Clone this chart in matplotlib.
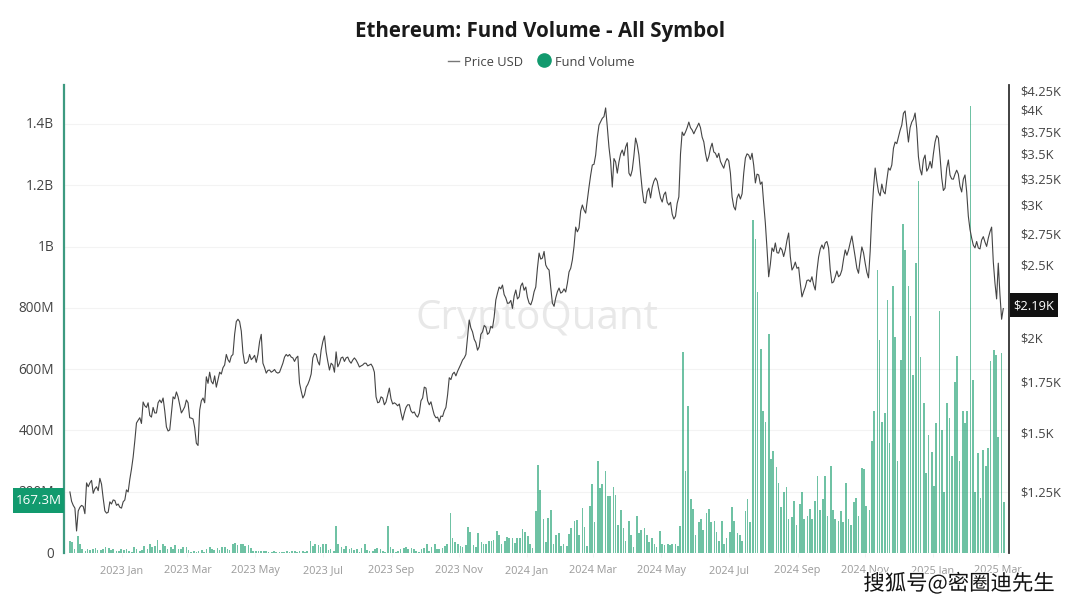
import matplotlib
matplotlib.use("Agg")
import matplotlib.pyplot as plt
import matplotlib.patheffects as pe
from matplotlib.lines import Line2D
from matplotlib.patches import Rectangle
from matplotlib.transforms import ScaledTranslation
import pandas as pd

plt.rcParams['font.family'] = ['Open Sans', 'DejaVu Sans']

title = "Ethereum: Fund Volume - All Symbol"
price_start = "2022-11-15"
price_usd = [
1250,1200,1110,1193,1196,1285,1285,1245,1270,1303,1226,1172,1213,1220,1200,1193,1213,1258,1299,1390,
1542,1567,1644,1617,1578,1617,1590,1654,1664,1524,1510,1670,1695,1630,1604,1654,1567,1561,1450,1604,
1664,1775,1800,1737,1720,1800,1825,1900,1855,1900,2100,2100,1910,1850,1900,1880,1855,1975,1850,1795,
1812,1806,1800,1800,1850,1900,1900,1880,1880,1742,1664,1720,1758,1880,1900,1840,1975,1915,1812,1840,
1915,1850,1885,1880,1862,1868,1868,1829,1840,1850,1840,1829,1670,1644,1664,1644,1715,1634,1634,1634,
1556,1617,1630,1590,1578,1590,1664,1715,1630,1610,1567,1548,1573,1617,1770,1790,1780,1825,1868,1900,
2110,2035,1970,1945,2035,2065,2030,2060,2243,2333,2347,2257,2222,2186,2312,2264,2362,2333,2222,2243,
2333,2587,2548,2495,2457,2222,2257,2326,2298,2298,2443,2533,2800,2792,2995,2922,3163,3383,3487,3820,
3900,4025,3572,3163,3414,3414,3541,3572,3300,3332,3672,3487,3135,3012,3153,3163,3252,3135,3022,3116,
2995,2913,2895,3070,3740,3740,3855,3763,3763,3843,3683,3506,3470,3615,3506,3506,3383,3414,3425,3070,
2950,3098,3098,3456,3487,3506,3203,3282,3213,2834,2407,2628,2668,2587,2612,2612,2750,2457,2517,2478,
2264,2333,2384,2407,2312,2556,2652,2668,2628,2362,2407,2407,2457,2612,2612,2725,2556,2433,2636,2509,
2399,2913,3352,3116,3192,3098,3352,3383,3628,3683,3820,3988,3628,3855,3963,3470,3282,3487,3352,3352,
3628,3672,3252,3153,3435,3242,3290,3290,3116,3282,2895,2708,2628,2628,2692,2676,2708,2800,2362,2509,
2115]
price_between_usd = [
1215,1190,1180,1200,1170,1270,1295,1262,1255,1280,1180,1175,1205,1218,1205,1190,1220,1250,1340,1460,
1555,1540,1625,1640,1570,1590,1640,1640,1600,1505,1590,1660,1670,1590,1620,1640,1565,1520,1440,1650,
1640,1740,1750,1780,1760,1790,1840,1870,1890,2020,2115,2040,1850,1860,1870,1895,1900,2020,1825,1810,
1800,1815,1795,1825,1885,1890,1885,1860,1890,1700,1680,1735,1790,1905,1860,1925,2010,1860,1850,1800,
1830,1880,1860,1885,1850,1880,1850,1835,1850,1835,1845,1800,1640,1670,1630,1680,1660,1640,1625,1590,
1590,1630,1600,1595,1570,1650,1720,1650,1645,1580,1570,1575,1600,1680,1760,1800,1805,1845,1880,2000,
2060,1990,1925,2020,2075,2020,2070,2130,2290,2320,2280,2220,2240,2270,2250,2340,2310,2260,2210,2300,
2470,2540,2600,2470,2330,2200,2300,2290,2320,2360,2470,2640,2760,2940,2950,3040,3280,3390,3680,3860,
3920,3800,3420,3450,3300,3500,3480,3620,3270,3480,3600,3300,3020,3120,3060,3220,3220,3060,3090,3020,
3020,2870,3010,3500,3700,3790,3790,3720,3800,3790,3630,3420,3560,3520,3460,3420,3350,3450,3300,2980,
3060,3050,3300,3500,3440,3380,3290,3190,3010,2620,2500,2600,2590,2630,2560,2690,2560,2480,2470,2360,
2300,2380,2370,2350,2450,2620,2620,2680,2460,2370,2450,2420,2540,2570,2670,2640,2470,2540,2590,2440,
2600,3150,3220,3080,3120,3230,3330,3560,3610,3760,3960,3800,3790,3890,3780,3340,3440,3320,3420,3500,
3700,3470,3130,3350,3280,3240,3330,3170,3240,3120,2780,2650,2680,2620,2720,2640,2760,2520,2250,2280,
2185]

volume_start = "2022-11-15"
fund_volume_m = [
40,36,12, 55,30,14, 8,14,10, 12,16,10, 9,12,18, 16,10,14, 6,8,14, 10,12,6, 3,18,14, 8,10,22,
12,30,18, 22,42,10, 28,24,12, 18,14,26, 14,12,18, 20,10,2, 5,3,8, 10,4,12, 18,12,10, 16,10,20,
18,12,10, 28,32,25, 30,28,24, 26,16,5, 8,6,5, 6,7,4, 3,5,2, 3,4,2, 5,3,6, 5,3,5,
6,4,5, 40,24,28, 26,20,28, 30,10,14, 8,88,30, 20,14,22, 12,16,10, 12,4,16, 28,10,6, 8,14,16,
14,8,4, 88,20,12, 4,6,14, 16,18,12, 16,12,6, 3,12,16, 28,6,18, 30,14,12, 16,24,28, 132,50,36,
30,24,20, 26,84,70, 26,20,66, 36,28,28, 40,40,42, 72,60,30, 40,52,48, 50,32,48, 50,78,68, 55,28,15,
136,288,206, 111,35,114, 140,30,58, 65,24,30, 24,62,82, 105,108,60, 147,85,24, 153,226,100, 300,212,225, 267,186,186,
215,190,90, 141,82,40, 104,60,20, 121,65,75, 82,60,35, 50,30,20, 72,30,25, 30,25,28, 30,24,89, 657,268,480,
176,143,60, 100,110,75, 132,143,100, 105,70,40, 105,30,50, 67,149,105, 65,60,40, 138,176,100, 1086,1024,852, 665,464,426,
714,306,334, 279,230,150, 198,214,110, 116,170,90, 160,200,110, 120,143,110, 170,252,140, 176,252,120, 285,140,110, 105,138,100,
230,110,90, 165,181,120, 276,274,154, 141,364,462, 924,696,429, 456,826,359, 870,706,299, 630,1074,989, 870,772,581, 946,1214,641,
489,261,386, 331,220,424, 791,402,200, 489,440,315, 557,643,300, 462,424,462, 1457,565,200, 326,180,337, 283,342,625, 663,647,380,
654,167.3]

left_ticks = [0, 200, 400, 600, 800, 1000, 1200, 1400]
left_labels = ["0", "200M", "400M", "600M", "800M", "1B", "1.2B", "1.4B"]
right_ticks = [1250, 1500, 1750, 2000, 2500, 2750, 3000, 3250, 3500, 3750, 4000, 4250]
right_labels = ["$1.25K", "$1.5K", "$1.75K", "$2K", "$2.5K", "$2.75K", "$3K", "$3.25K", "$3.5K", "$3.75K", "$4K", "$4.25K"]
x_ticks = ["2023-01-01", "2023-03-01", "2023-05-01", "2023-07-01", "2023-09-01", "2023-11-01", "2024-01-01",
           "2024-03-01", "2024-05-01", "2024-07-01", "2024-09-01", "2024-11-01", "2025-01-01", "2025-03-01"]
x_labels = ["2023 Jan", "2023 Mar", "2023 May", "2023 Jul", "2023 Sep", "2023 Nov", "2024 Jan",
            "2024 Mar", "2024 May", "2024 Jul", "2024 Sep", "2024 Nov", "2025 Jan", "2025 Mar"]

W, H = 1080, 608
fig = plt.figure(figsize=(W / 100, H / 100), dpi=100, facecolor="white")
ax = fig.add_axes([64 / W, (H - 553) / H, 945 / W, 468 / H])

price_series = []
for a, b in zip(price_usd, price_between_usd):
    price_series += [a, b]
price_dates = pd.date_range(price_start, periods=len(price_series), freq="36h")
vol_dates = [pd.Timestamp(volume_start) + pd.Timedelta(days=7 * (i // 3) + 2 * (i % 3)) for i in range(len(fund_volume_m))]

ax.bar(vol_dates, fund_volume_m, width=1.5, color="#0f9a68", alpha=0.6, linewidth=0, zorder=3)
ax.set_xlim(pd.Timestamp("2022-11-09 16:00"), pd.Timestamp("2022-11-09 16:00") + pd.Timedelta(days=852))
ax.set_ylim(0, 1527)
ax.set_yticks(left_ticks, left_labels)
ax.set_xticks(pd.to_datetime(x_ticks), x_labels)
ax.tick_params(axis="y", length=0, pad=7, labelsize=9.8, labelcolor="#444444")
ax.tick_params(axis="x", length=3, width=0.5, color="#eeeeee", pad=5.5, labelsize=7.8, labelcolor="#9a9a9a")
for lab in ax.get_yticklabels():
    lab.set_transform(lab.get_transform() + ScaledTranslation(0, 1 / 100, fig.dpi_scale_trans))
ax.grid(axis="y", color="#f3f3f3", linewidth=0.8, zorder=0)
ax.set_axisbelow(True)
for s in ["top", "right", "bottom"]:
    ax.spines[s].set_visible(False)
ax.spines["left"].set_color("#3d9a80")
ax.spines["left"].set_linewidth(1.6)

ax.text(0.501, 0.4995, "CryptoQuant", transform=ax.transAxes, ha="center", va="center",
        fontsize=29, color="#e8e8e8", zorder=1, fontweight="medium")

ax2 = ax.twinx()
ax2.set_yscale("log")
ax2.plot(price_dates, price_series, color="#444444", linewidth=0.8, zorder=4)
ax2.set_ylim(1038, 4316)
ax2.set_yticks(right_ticks, right_labels)
ax2.minorticks_off()
ax2.tick_params(axis="y", length=0, pad=8, labelsize=9.3, labelcolor="#444444", which="both")
for s in ["top", "left", "bottom"]:
    ax2.spines[s].set_visible(False)
ax2.spines["right"].set_color("#333333")
ax2.spines["right"].set_linewidth(1.3)

fig.text(540 / W, 1 - 32 / H, title, ha="center", va="center", fontsize=14.8, fontweight="bold", color="#1a1a1a")
fig.add_artist(Line2D([448 / W, 459 / W], [1 - 61 / H] * 2, color="#777777", linewidth=1))
fig.text(464 / W, 1 - 62 / H, "Price USD", ha="left", va="center", fontsize=9.3, color="#444444")
fig.add_artist(Line2D([544 / W], [1 - 59.5 / H], marker="o", markersize=9.5, color="#129a6e", linestyle="none"))
fig.text(555 / W, 1 - 62 / H, "Fund Volume", ha="left", va="center", fontsize=9.3, color="#444444")

fig.add_artist(Rectangle((13 / W, 1 - 513 / H), 51 / W, 25 / H, transform=fig.transFigure, facecolor="#129a6e", edgecolor="none", zorder=5))
fig.text(38.5 / W, 1 - 501 / H, "167.3M", ha="center", va="center", fontsize=9.6, color="white", zorder=6)
fig.add_artist(Rectangle((1010 / W, 1 - 317 / H), 48 / W, 24 / H, transform=fig.transFigure, facecolor="#111111", edgecolor="none", zorder=5))
fig.text(1034 / W, 1 - 306 / H, "$2.19K", ha="center", va="center", fontsize=9.3, color="white", zorder=6)

fig.text(959 / W, 1 - 584 / H, "搜狐号@密圈迪先生", ha="center", va="center", fontsize=15.4, color="#111111", zorder=7,
         family=["Noto Sans CJK SC", "DejaVu Sans"],
         path_effects=[pe.withStroke(linewidth=1.6, foreground="white")])

fig.savefig("out.png", dpi=100)
